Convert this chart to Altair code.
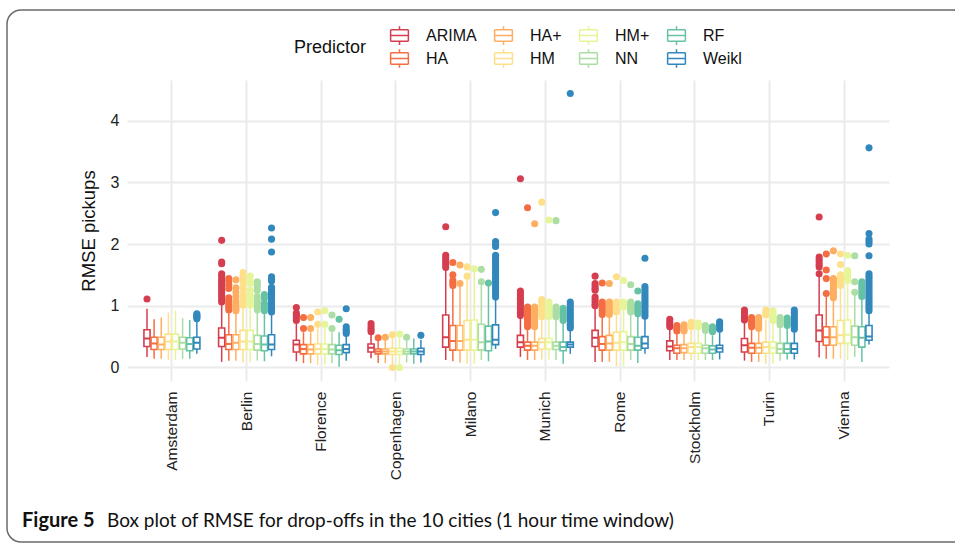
import altair as alt
import pandas as pd

CITIES = ["Amsterdam", "Berlin", "Florence", "Copenhagen", "Milano",
          "Munich", "Rome", "Stockholm", "Turin", "Vienna"]
PREDICTORS = ["ARIMA", "HA", "HA+", "HM", "HM+", "NN", "RF", "Weikl"]
COLORS = ["#D53E4F", "#F46D43", "#FDAE61", "#FEE08B",
          "#E6F598", "#ABDDA4", "#66C2A5", "#3288BD"]
# legend is read column-wise in the reference (2 rows x 4 columns)
LEGEND_ORDER = ["ARIMA", "HA+", "HM+", "RF", "HA", "HM", "NN", "Weikl"]

# per city: one value per predictor (ARIMA, HA, HA+, HM, HM+, NN, RF, Weikl)
LOW = [
    [0.17, 0.14, 0.14, 0.12, 0.12, 0.14, 0.14, 0.22],
    [0.09, 0.11, 0.11, 0.08, 0.08, 0.11, 0.10, 0.18],
    [0.10, 0.07, 0.07, 0.04, 0.04, 0.07, 0.01, 0.11],
    [0.15, 0.07, 0.07, 0.05, 0.05, 0.08, 0.06, 0.08],
    [0.12, 0.10, 0.08, 0.06, 0.06, 0.12, 0.10, 0.30],
    [0.17, 0.12, 0.12, 0.13, 0.13, 0.12, 0.06, 0.22],
    [0.09, 0.09, 0.09, 0.02, 0.02, 0.12, 0.07, 0.22],
    [0.12, 0.12, 0.12, 0.12, 0.12, 0.12, 0.12, 0.13],
    [0.11, 0.09, 0.09, 0.06, 0.06, 0.11, 0.13, 0.13],
    [0.16, 0.14, 0.14, 0.14, 0.12, 0.17, 0.09, 0.37],
]
Q1 = [
    [0.34, 0.29, 0.29, 0.29, 0.29, 0.30, 0.27, 0.30],
    [0.34, 0.29, 0.29, 0.29, 0.29, 0.28, 0.27, 0.29],
    [0.25, 0.22, 0.22, 0.22, 0.22, 0.22, 0.21, 0.24],
    [0.25, 0.22, 0.22, 0.21, 0.21, 0.22, 0.22, 0.21],
    [0.33, 0.28, 0.28, 0.28, 0.28, 0.28, 0.27, 0.37],
    [0.33, 0.28, 0.28, 0.30, 0.30, 0.29, 0.27, 0.33],
    [0.34, 0.28, 0.28, 0.28, 0.28, 0.28, 0.28, 0.31],
    [0.27, 0.23, 0.24, 0.23, 0.23, 0.23, 0.23, 0.25],
    [0.25, 0.23, 0.23, 0.23, 0.23, 0.23, 0.23, 0.23],
    [0.42, 0.36, 0.36, 0.39, 0.39, 0.36, 0.33, 0.44],
]
MED = [
    [0.47, 0.39, 0.37, 0.42, 0.42, 0.40, 0.38, 0.40],
    [0.48, 0.38, 0.40, 0.42, 0.42, 0.38, 0.37, 0.37],
    [0.37, 0.30, 0.29, 0.30, 0.30, 0.29, 0.28, 0.30],
    [0.32, 0.26, 0.26, 0.26, 0.26, 0.26, 0.26, 0.26],
    [0.49, 0.43, 0.43, 0.45, 0.45, 0.41, 0.42, 0.45],
    [0.41, 0.35, 0.35, 0.41, 0.41, 0.35, 0.33, 0.37],
    [0.48, 0.38, 0.39, 0.40, 0.41, 0.38, 0.35, 0.39],
    [0.34, 0.31, 0.31, 0.33, 0.33, 0.31, 0.29, 0.31],
    [0.36, 0.32, 0.32, 0.33, 0.32, 0.30, 0.30, 0.30],
    [0.60, 0.49, 0.49, 0.52, 0.53, 0.49, 0.48, 0.50],
]
Q3 = [
    [0.61, 0.49, 0.49, 0.54, 0.54, 0.49, 0.48, 0.49],
    [0.64, 0.53, 0.53, 0.60, 0.60, 0.52, 0.51, 0.53],
    [0.44, 0.37, 0.37, 0.38, 0.38, 0.37, 0.36, 0.37],
    [0.38, 0.30, 0.30, 0.31, 0.31, 0.30, 0.30, 0.31],
    [0.85, 0.68, 0.68, 0.76, 0.77, 0.70, 0.67, 0.69],
    [0.52, 0.41, 0.41, 0.47, 0.47, 0.41, 0.41, 0.41],
    [0.60, 0.50, 0.52, 0.57, 0.58, 0.50, 0.49, 0.50],
    [0.43, 0.36, 0.37, 0.39, 0.39, 0.36, 0.35, 0.36],
    [0.47, 0.39, 0.39, 0.41, 0.41, 0.39, 0.39, 0.39],
    [0.85, 0.66, 0.66, 0.76, 0.77, 0.67, 0.66, 0.68],
]
HIGH = [
    [0.95, 0.78, 0.81, 0.89, 0.92, 0.80, 0.77, 0.76],
    [1.01, 0.88, 0.88, 0.97, 0.97, 0.90, 0.88, 0.87],
    [0.71, 0.57, 0.57, 0.66, 0.68, 0.57, 0.57, 0.52],
    [0.55, 0.44, 0.44, 0.48, 0.49, 0.45, 0.47, 0.45],
    [1.58, 1.28, 1.32, 1.44, 1.55, 1.35, 1.32, 1.12],
    [0.80, 0.61, 0.61, 0.80, 0.80, 0.80, 0.72, 0.61],
    [0.98, 0.82, 0.82, 0.88, 0.96, 0.85, 0.82, 0.80],
    [0.62, 0.55, 0.55, 0.62, 0.62, 0.55, 0.52, 0.57],
    [0.74, 0.63, 0.60, 0.78, 0.72, 0.66, 0.65, 0.58],
    [1.50, 1.15, 1.10, 1.30, 1.38, 1.18, 1.12, 0.88],
]

# outliers per city, one list per predictor
OUTLIERS = {
    "Amsterdam": [[1.11], [], [], [], [], [], [], [0.79, 0.81, 0.83, 0.85, 0.87]],
    "Berlin": [
        [2.06, 1.71, 1.68, 1.52, 1.49, 1.45, 1.41, 1.37, 1.33, 1.29, 1.25, 1.21, 1.17, 1.13, 1.09, 1.06],
        [1.44, 1.40, 1.34, 1.28, 1.13, 1.09, 1.05, 1.01, 0.97, 0.93],
        [1.42, 1.29, 1.22, 1.15, 1.07, 1.03, 0.99, 0.95, 0.92],
        [1.54, 1.48, 1.42, 1.37, 1.28, 1.19, 1.13, 1.09, 1.05, 1.01],
        [1.48, 1.40, 1.36, 1.25, 1.17, 1.13, 1.09, 1.05, 1.01],
        [1.39, 1.35, 1.31, 1.25, 1.15, 1.08, 1.04, 1.00, 0.96, 0.93],
        [1.18, 1.12, 1.04, 1.00, 0.96, 0.92],
        [2.26, 2.08, 1.87, 1.47, 1.43, 1.40, 1.30, 1.26, 1.22, 1.18, 1.14, 1.10, 1.06, 1.02, 0.98, 0.94, 0.90],
    ],
    "Florence": [
        [0.97, 0.88, 0.84, 0.80, 0.76],
        [0.81, 0.63],
        [0.81, 0.63],
        [0.90, 0.70],
        [0.92, 0.70],
        [0.85, 0.63],
        [0.78],
        [0.95, 0.66, 0.62, 0.58, 0.55],
    ],
    "Copenhagen": [
        [0.71, 0.66, 0.62, 0.58],
        [0.48],
        [0.49],
        [0.53, 0.00],
        [0.54, 0.00],
        [0.49],
        [],
        [0.52],
    ],
    "Milano": [
        [2.28, 1.82, 1.78, 1.74, 1.70, 1.66, 1.62],
        [1.70, 1.50, 1.41, 1.37, 1.33],
        [1.66, 1.36],
        [1.63, 1.48],
        [1.60],
        [1.59, 1.39],
        [1.37],
        [2.51, 2.04, 2.00, 1.96, 1.82, 1.78, 1.74, 1.70, 1.66, 1.62, 1.58, 1.54, 1.50,
         1.46, 1.42, 1.38, 1.34, 1.30, 1.26, 1.22, 1.18, 1.14],
    ],
    "Munich": [
        [3.06, 1.24, 1.20, 1.16, 1.12, 1.08, 1.04, 1.00, 0.96, 0.92, 0.88, 0.84],
        [2.59, 0.98, 0.94, 0.90, 0.86, 0.82, 0.78, 0.74, 0.70, 0.66],
        [2.33, 0.98, 0.94, 0.90, 0.86, 0.82, 0.78, 0.74, 0.70, 0.66],
        [2.68, 1.10, 1.06, 1.02, 0.98, 0.94, 0.90, 0.86, 0.82],
        [2.39, 1.06, 1.02, 0.98, 0.94, 0.90, 0.86, 0.82],
        [2.38, 0.98, 0.94, 0.90, 0.86, 0.82],
        [0.96, 0.92, 0.88, 0.84, 0.80, 0.76],
        [4.44, 1.06, 1.02, 0.98, 0.94, 0.90, 0.86, 0.82, 0.78, 0.74, 0.70, 0.67, 0.64],
    ],
    "Rome": [
        [1.48, 1.36, 1.32, 1.28, 1.25, 1.14, 1.10, 1.06, 1.02, 1.00],
        [1.37, 1.06, 1.02, 0.98, 0.94, 0.90, 0.86],
        [1.36, 1.06, 1.02, 0.98, 0.94, 0.90, 0.86],
        [1.47, 1.06, 1.02, 0.98, 0.94, 0.90],
        [1.41, 1.06, 1.02, 0.98],
        [1.34, 1.06, 1.02, 0.98, 0.94, 0.90],
        [1.24, 1.03, 0.99, 0.95, 0.91, 0.87],
        [1.77, 1.31, 1.27, 1.23, 1.19, 1.15, 1.11, 1.07, 1.03, 0.99, 0.95, 0.91, 0.87, 0.83],
    ],
    "Stockholm": [
        [0.78, 0.74, 0.70, 0.66],
        [0.68, 0.65, 0.62, 0.59],
        [0.69, 0.66, 0.62, 0.59],
        [0.73, 0.70, 0.66],
        [0.72, 0.69, 0.66],
        [0.68, 0.64, 0.60],
        [0.66, 0.62, 0.58],
        [0.74, 0.70, 0.66, 0.62],
    ],
    "Turin": [
        [0.93, 0.89, 0.85, 0.81, 0.77],
        [0.81, 0.77, 0.73, 0.69, 0.66],
        [0.81, 0.77, 0.73, 0.69, 0.66, 0.63],
        [0.93, 0.89, 0.85],
        [0.92, 0.88, 0.84, 0.80, 0.76],
        [0.81, 0.77, 0.73, 0.69],
        [0.80, 0.76, 0.72, 0.68],
        [0.93, 0.89, 0.85, 0.81, 0.77, 0.73, 0.69, 0.66, 0.62],
    ],
    "Vienna": [
        [2.44, 1.79, 1.75, 1.71, 1.67, 1.63, 1.52],
        [1.84, 1.58, 1.44, 1.20],
        [1.89, 1.44, 1.40, 1.36, 1.32, 1.28, 1.24, 1.20, 1.16, 1.13],
        [1.84, 1.67, 1.50, 1.46, 1.42, 1.38, 1.33],
        [1.82, 1.57, 1.53, 1.49, 1.45, 1.41],
        [1.81, 1.39, 1.22],
        [1.39, 1.35, 1.31, 1.27, 1.23, 1.19, 1.15],
        [3.56, 2.17, 2.08, 2.04, 2.00, 1.81, 1.52, 1.48, 1.44, 1.40, 1.36, 1.32, 1.28,
         1.24, 1.20, 1.16, 1.12, 1.08, 1.04, 1.00, 0.96, 0.92],
    ],
}

Y_TICKS = [0, 0.5, 1, 1.5, 2, 2.5, 3, 3.5, 4, 4.5]
CAPTION_BOLD = "Figure 5"
CAPTION_TEXT = "Box plot of RMSE for drop-offs in the 10 cities (1 hour time window)"

# ---------- tables ----------
box_rows = []
out_rows = []
for ci, city in enumerate(CITIES):
    for pi, pred in enumerate(PREDICTORS):
        box_rows.append(dict(city=city, predictor=pred, low=LOW[ci][pi], q1=Q1[ci][pi],
                             med=MED[ci][pi], q3=Q3[ci][pi], high=HIGH[ci][pi]))
        for v in OUTLIERS[city][pi]:
            out_rows.append(dict(city=city, predictor=pred, value=v))
boxes = pd.DataFrame(box_rows)
outs = pd.DataFrame(out_rows)

W, H = 762, 301
FONT = "Liberation Sans"
LEGEND_RANGE = [COLORS[PREDICTORS.index(p)] for p in LEGEND_ORDER]

# box glyph drawn only with line sub-paths (no enclosed area, so no fill shows)
GLYPH = ("M-0.95,-0.62H0.95 M0.95,-0.62V0.62 M0.95,0.62H-0.95 M-0.95,0.62V-0.62 "
         "M-0.95,0H0.95 M0,-0.62V-1 M0,0.62V1")

x_enc = alt.X("city:N", sort=CITIES,
              scale=alt.Scale(paddingInner=0.237, paddingOuter=0.22),
              axis=alt.Axis(title=None, labelAngle=-90, labelFontSize=15.5, labelFont=FONT,
                            labelColor="#222", labelPadding=10, ticks=False, domain=False,
                            grid=True, gridColor="#ebebeb", gridWidth=2))
xo_enc = alt.XOffset("predictor:N", sort=PREDICTORS,
                     scale=alt.Scale(paddingInner=0.14, paddingOuter=0.07))
y_scale = alt.Scale(domain=[-0.22, 4.66], nice=False, zero=False)
y_axis = alt.Axis(title="RMSE pickups", values=Y_TICKS,
                  labelExpr="datum.value % 1 === 0 ? format(datum.value, 'd') : ''",
                  labelFontSize=16, labelFont=FONT, labelColor="#222", labelPadding=8,
                  titleFontSize=18.5, titleFont=FONT, titleFontWeight="normal",
                  titleColor="#111", titlePadding=12,
                  ticks=False, domain=False, grid=True, gridColor="#ebebeb",
                  gridWidth={"condition": {"test": "datum.value % 1 === 0", "value": 2}, "value": 1})

legend = alt.Legend(title="Predictor", orient="none", legendX=167, legendY=-55,
                    columns=4, direction="horizontal", titleOrient="left",
                    titleAnchor="middle", titleBaseline="middle",
                    titleFontSize=18, titleFont=FONT, titleFontWeight="normal", titleColor="#111",
                    titlePadding=22,
                    labelFontSize=16, labelFont=FONT, labelColor="#111", labelOffset=16,
                    columnPadding=14, rowPadding=-4,
                    symbolType=GLYPH, symbolSize=350, symbolStrokeWidth=1.5)
stroke_enc = alt.Stroke("predictor:N",
                        scale=alt.Scale(domain=LEGEND_ORDER, range=LEGEND_RANGE),
                        legend=legend)

base = alt.Chart(boxes).encode(x=x_enc, xOffset=xo_enc, stroke=stroke_enc)

box = base.mark_bar(strokeWidth=1.6).encode(
    y=alt.Y("q1:Q", scale=y_scale, axis=y_axis), y2="q3:Q", fill=alt.value("white"))
med = base.mark_bar(strokeWidth=2).encode(
    y=alt.Y("med:Q", scale=y_scale), y2="med:Q", fill=alt.value("white"))
whisk_lo = base.mark_rule(strokeWidth=1.5).encode(y=alt.Y("low:Q", scale=y_scale), y2="q1:Q")
whisk_hi = base.mark_rule(strokeWidth=1.5).encode(y=alt.Y("q3:Q", scale=y_scale), y2="high:Q")
pts = alt.Chart(outs).mark_circle(size=50, opacity=1).encode(
    x=x_enc, xOffset=xo_enc,
    fill=alt.Fill("predictor:N", scale=alt.Scale(domain=LEGEND_ORDER, range=LEGEND_RANGE),
                  legend=None),
    y=alt.Y("value:Q", scale=y_scale))

frame = alt.Chart(pd.DataFrame({"k": [0]})).mark_rect(
    cornerRadius=14, fill="transparent", stroke="#6b6b6b", strokeWidth=1.5).encode(
    x=alt.value(-120), x2=alt.value(840), y=alt.value(-70), y2=alt.value(462))

cap1 = alt.Chart(pd.DataFrame({"t": [CAPTION_BOLD]})).mark_text(
    align="left", baseline="alphabetic", font="Lato", fontSize=20, fontWeight="bold",
    color="#111").encode(text="t:N", x=alt.value(-105), y=alt.value(447))
cap2 = alt.Chart(pd.DataFrame({"t": [CAPTION_TEXT]})).mark_text(
    align="left", baseline="alphabetic", font="Lato", fontSize=19, color="#111").encode(
    text="t:N", x=alt.value(-20), y=alt.value(447))

chart = alt.layer(frame, box, med, whisk_lo, whisk_hi, pts, cap1, cap2).properties(
    width=W, height=H,
    autosize=alt.AutoSizeParams(type="none"),
    padding={"left": 127, "top": 80, "right": 66, "bottom": 162},
    background="white",
).configure_view(strokeWidth=0)

chart.save("out.html", embed_options={"renderer": "svg", "actions": False})
